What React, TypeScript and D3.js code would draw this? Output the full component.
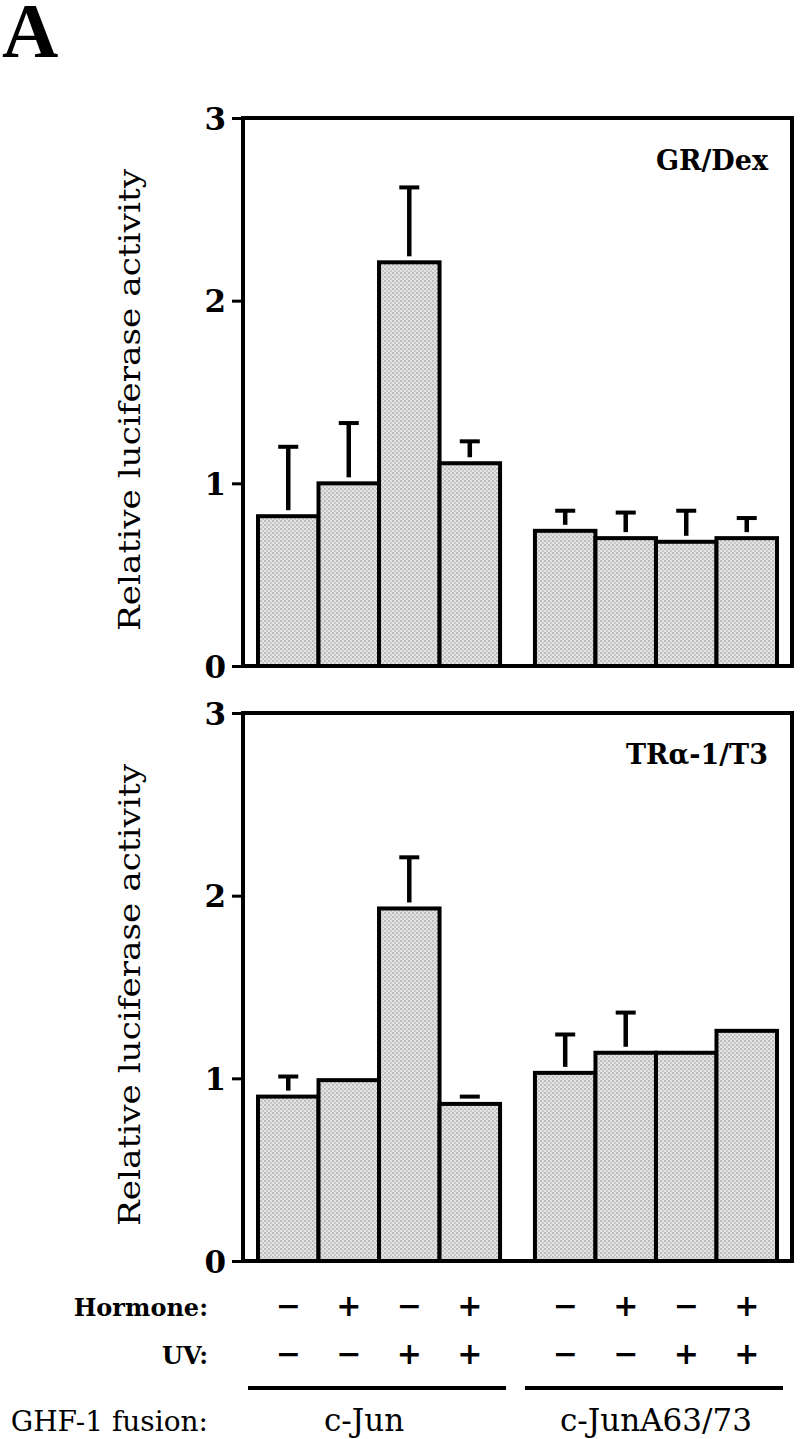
import { useEffect, useRef } from "react";
import * as d3 from "d3";

// conditions under each bar
const fusions = ["c-Jun", "c-JunA63/73"];
const hormone = ["−", "+", "−", "+", "−", "+", "−", "+"];
const uv = ["−", "−", "+", "+", "−", "−", "+", "+"];
const yTicks = [0, 1, 2, 3];

// GR/Dex panel
const grValues = [0.82, 1.0, 2.21, 1.11, 0.74, 0.7, 0.68, 0.7];
const grErrors = [0.38, 0.33, 0.41, 0.12, 0.11, 0.14, 0.17, 0.11];

// TRa-1/T3 panel
const trValues = [0.9, 0.99, 1.93, 0.86, 1.03, 1.14, 1.14, 1.26];
const trErrors = [0.11, 0, 0.28, 0.04, 0.21, 0.22, 0, 0];

const panelLabels = ["GR/Dex", "TRα-1/T3"];

const SERIF = "DejaVu Serif, serif";

export default function App() {
  const svgRef = useRef<SVGSVGElement | null>(null);

  useEffect(() => {
    if (!svgRef.current) return;
    const svg = d3.select(svgRef.current);
    svg.selectAll("*").remove();

    const left = 243;
    const right = 792;
    const panels = [
      { label: panelLabels[0], values: grValues, errors: grErrors, top: 118, bottom: 666, labelY: 170 },
      { label: panelLabels[1], values: trValues, errors: trErrors, top: 713, bottom: 1261, labelY: 764 },
    ];

    // stippled fill like the printed halftone
    const pat = svg.append("defs").append("pattern")
      .attr("id", "stipple")
      .attr("width", 4)
      .attr("height", 4)
      .attr("patternUnits", "userSpaceOnUse");
    pat.append("rect").attr("width", 4).attr("height", 4).attr("fill", "#e4e4e4");
    pat.append("rect").attr("x", 0).attr("y", 0).attr("width", 2).attr("height", 2).attr("fill", "#bdbdbd");
    pat.append("rect").attr("x", 2).attr("y", 2).attr("width", 2).attr("height", 2).attr("fill", "#c8c8c8");

    const xGroup = d3.scaleBand<string>()
      .domain(fusions)
      .range([left + 15, right - 15])
      .paddingInner(0.126);
    const xBar = d3.scaleBand<number>()
      .domain(d3.range(4))
      .range([0, xGroup.bandwidth()]);
    const barX = (i: number) => (xGroup(fusions[Math.floor(i / 4)]) as number) + (xBar(i % 4) as number);
    const barMid = (i: number) => barX(i) + xBar.bandwidth() / 2;

    // "A"
    svg.append("text")
      .attr("x", 2)
      .attr("y", 57)
      .attr("font-family", "Liberation Serif, serif")
      .attr("font-weight", "bold")
      .attr("font-size", 78)
      .text("A");

    panels.forEach((p) => {
      const y = d3.scaleLinear().domain([0, 3]).range([p.bottom, p.top]);
      const g = svg.append("g");

      g.selectAll("rect.bar")
        .data(p.values)
        .join("rect")
        .attr("class", "bar")
        .attr("x", (d, i) => barX(i))
        .attr("y", (d) => y(d))
        .attr("width", xBar.bandwidth())
        .attr("height", (d) => y(0) - y(d))
        .attr("fill", "url(#stipple)")
        .attr("stroke", "#000")
        .attr("stroke-width", 4);

      // error bars (stem stops short of the bar top, as printed)
      const gap = 6;
      p.values.forEach((v, i) => {
        const e = p.errors[i];
        if (!e) return;
        const capY = y(v + e);
        const cx = barMid(i);
        g.append("line")
          .attr("x1", cx - 10).attr("x2", cx + 10)
          .attr("y1", capY).attr("y2", capY)
          .attr("stroke", "#000").attr("stroke-width", 4);
        if (y(v) - gap > capY + 2) {
          g.append("line")
            .attr("x1", cx).attr("x2", cx)
            .attr("y1", capY).attr("y2", y(v) - gap)
            .attr("stroke", "#000").attr("stroke-width", 4.5);
        }
      });

      // frame
      g.append("rect")
        .attr("x", left)
        .attr("y", y(3))
        .attr("width", right - left)
        .attr("height", y(0) - y(3))
        .attr("fill", "none")
        .attr("stroke", "#000")
        .attr("stroke-width", 4);

      const ag = g.append("g")
        .attr("transform", `translate(${left},0)`)
        .call(d3.axisLeft(y).tickValues(yTicks).tickSize(11).tickPadding(6).tickFormat(d3.format("d")));
      ag.select(".domain").remove();
      ag.attr("font-family", SERIF).attr("font-size", 31).attr("font-weight", "bold");
      ag.selectAll(".tick line").attr("stroke", "#000").attr("stroke-width", 3);
      ag.selectAll(".tick text").attr("fill", "#000").attr("dy", "0.36em");

      // panel label
      g.append("text")
        .attr("x", 768)
        .attr("y", p.labelY)
        .attr("text-anchor", "end")
        .attr("font-family", SERIF)
        .attr("font-weight", "bold")
        .attr("font-size", 27)
        .text(p.label);

      // y-axis title
      g.append("text")
        .attr("transform", `translate(140,${(p.top + p.bottom) / 2 + 8}) rotate(-90)`)
        .attr("text-anchor", "middle")
        .attr("font-family", SERIF)
        .attr("font-size", 30)
        .attr("textLength", 462)
        .attr("lengthAdjust", "spacingAndGlyphs")
        .text("Relative luciferase activity");
    });

    // condition rows
    const rows = [
      { name: "Hormone:", signs: hormone, y: 1316 },
      { name: "UV:", signs: uv, y: 1364 },
    ];
    rows.forEach((r) => {
      svg.append("text")
        .attr("x", 208)
        .attr("y", r.y)
        .attr("text-anchor", "end")
        .attr("font-family", SERIF)
        .attr("font-weight", "bold")
        .attr("font-size", 24)
        .text(r.name);
      svg.append("g")
        .selectAll("text")
        .data(r.signs)
        .join("text")
        .attr("x", (d, i) => barMid(i))
        .attr("y", r.y)
        .attr("text-anchor", "middle")
        .attr("font-family", SERIF)
        .attr("font-weight", "bold")
        .attr("font-size", 30)
        .text((d) => d);
    });

    // group underlines and fusion names
    svg.append("g")
      .selectAll("line")
      .data(fusions)
      .join("line")
      .attr("x1", (d) => (xGroup(d) as number) - 10)
      .attr("x2", (d) => (xGroup(d) as number) + xGroup.bandwidth() + 6)
      .attr("y1", 1388)
      .attr("y2", 1388)
      .attr("stroke", "#000")
      .attr("stroke-width", 4);

    svg.append("text")
      .attr("x", 208)
      .attr("y", 1431)
      .attr("text-anchor", "end")
      .attr("font-family", SERIF)
      .attr("font-size", 28)
      .text("GHF-1 fusion:");

    svg.append("g")
      .selectAll("text")
      .data(fusions)
      .join("text")
      .attr("x", (d, i) => (xGroup(d) as number) + xGroup.bandwidth() / 2 + (i === 0 ? -15 : 0))
      .attr("y", 1431)
      .attr("text-anchor", "middle")
      .attr("font-family", SERIF)
      .attr("font-size", 31)
      .text((d) => d);
  }, []);

  return (
    <div style={{ position: "absolute", left: 0, top: 0, background: "#fff" }}>
      <svg ref={svgRef} width={800} height={1439} style={{ display: "block" }} />
    </div>
  );
}
